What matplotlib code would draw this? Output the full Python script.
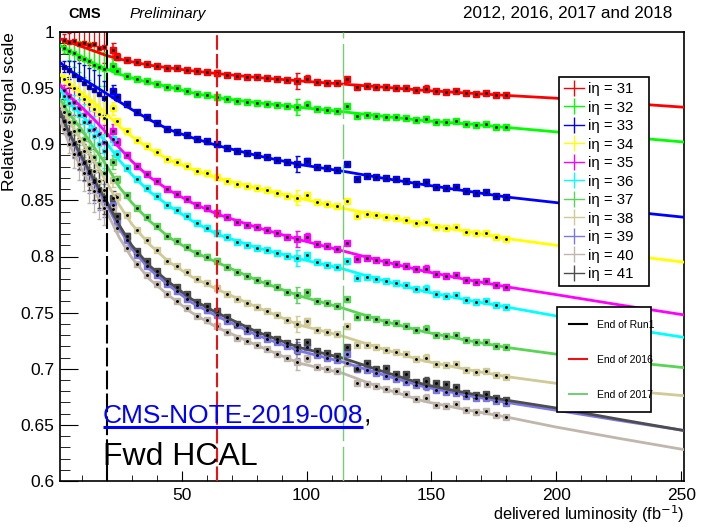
import matplotlib
matplotlib.use("Agg")
import matplotlib.pyplot as plt
from matplotlib.lines import Line2D
from matplotlib.ticker import MultipleLocator, FormatStrFormatter

plt.rcParams['font.family'] = ['Liberation Sans', 'DejaVu Sans']

# ---- data ----
eta_labels = ["iη = 31", "iη = 32", "iη = 33", "iη = 34", "iη = 35", "iη = 36",
              "iη = 37", "iη = 38", "iη = 39", "iη = 40", "iη = 41"]

lumi_fit = [1.3, 5, 10, 15, 20, 25, 30, 37, 45, 54, 64, 80, 97, 114.5, 130, 147, 165, 180, 200, 225, 251]
lumi_run1 = [3, 5, 7, 9, 11, 13, 15, 17, 19]
lumi_run2 = [22.5, 24, 28, 32, 36, 40, 44, 48, 52, 56, 60, 64, 68, 72, 76, 80, 84, 88, 92, 96, 100,
             104, 108, 112, 116, 120, 124, 128, 132, 136, 140, 144, 148, 152, 156, 160, 164, 168, 172, 176, 180]
err_run1 = [0.005, 0.008, 0.012, 0.014, 0.016, 0.017, 0.018, 0.017, 0.015]
err_run2 = [0.006, 0.003, 0.002, 0.0015, 0.0015, 0.0015, 0.0015, 0.0015, 0.0015, 0.0015, 0.002, 0.0025,
            0.0015, 0.0015, 0.0015, 0.0015, 0.0015, 0.0015, 0.0015, 0.007, 0.003, 0.0015, 0.0015, 0.0015,
            0.002, 0.002, 0.0015, 0.0015, 0.0015, 0.0015, 0.0015, 0.0015, 0.003, 0.0015, 0.0015, 0.0015,
            0.0015, 0.0015, 0.0015, 0.0015, 0.0015]

fit_31 = [.994, .991, .987, .983, .979, .976, .9735, .9705, .968, .9655, .963, .9595, .9565, .9536, .951, .948, .9455, .9435, .941, .937, .933]
fit_32 = [.988, .983, .978, .972, .967, .9625, .959, .955, .951, .946, .9415, .937, .933, .929, .925, .921, .918, .915, .911, .907, .902]
fit_33 = [.973, .966, .959, .952, .945, .938, .931, .922, .913, .906, .899, .890, .882, .876, .870, .864, .858, .853, .848, .841, .835]
fit_34 = [.962, .954, .946, .937, .927, .916, .907, .896, .886, .878, .870, .861, .852, .843, .836, .829, .822, .816, .810, .802, .795]
fit_35 = [.953, .943, .933, .922, .910, .897, .885, .871, .859, .848, .838, .826, .815, .805, .796, .787, .779, .773, .766, .757, .748]
fit_36 = [.949, .937, .926, .914, .901, .886, .873, .858, .845, .832, .820, .808, .798, .789, .779, .769, .761, .755, .747, .737, .728]
fit_37 = [.940, .927, .913, .897, .881, .862, .848, .832, .817, .805, .795, .779, .765, .754, .743, .733, .725, .719, .713, .707, .701]
fit_38 = [.936, .920, .903, .885, .866, .846, .829, .811, .795, .782, .771, .755, .739, .729, .718, .707, .699, .693, .687, .681, .676]
fit_39 = [.930, .909, .887, .866, .846, .825, .807, .789, .774, .759, .747, .730, .716, .706, .695, .684, .676, .670, .663, .654, .645]
fit_40 = [.922, .900, .878, .858, .840, .817, .799, .780, .765, .750, .737, .721, .705, .696, .683, .671, .663, .657, .648, .638, .628]
fit_41 = [.929, .910, .889, .868, .849, .828, .810, .792, .777, .762, .750, .733, .719, .7095, .698, .686, .678, .672, .665, .655, .645]

run1_31 = [.993, .991, .992, .989, .990, .988, .989, .986, .987]
run1_32 = [.986, .983, .981, .978, .976, .974, .971, .969, .967]
run1_33 = [.969, .966, .962, .958, .955, .951, .948, .945, .941]
run1_34 = [.958, .954, .950, .945, .940, .936, .931, .927, .923]
run1_35 = [.948, .943, .938, .932, .926, .920, .914, .909, .902]
run1_36 = [.943, .937, .932, .926, .920, .913, .907, .900, .894]
run1_37 = [.934, .927, .920, .913, .905, .897, .889, .882, .874]
run1_38 = [.929, .920, .912, .903, .894, .885, .876, .867, .859]
run1_39 = [.921, .909, .900, .891, .883, .874, .866, .858, .850]
run1_40 = [.914, .900, .891, .882, .874, .865, .858, .850, .843]
run1_41 = [.921, .910, .901, .892, .884, .876, .868, .860, .853]

run2_31 = [.984, .978, .975, .973, .9715, .970, .968, .9675, .9665, .965, .9645, .9635, .962, .9605, .960, .9595,
           .959, .958, .9572, .9565, .9585, .9556, .955, .9542, .958, .951, .9522, .9514, .9508, .9505, .9498,
           .9485, .9495, .947, .9466, .9475, .9455, .9448, .9455, .944, .9435]
run2_32 = [.970, .9652, .961, .958, .9562, .954, .9511, .9497, .9477, .9451, .9439, .9421, .9404, .9387, .9377,
           .937, .9363, .9351, .934, .9332, .9353, .9315, .9307, .9298, .934, .9256, .926, .9255, .9246, .9242,
           .9233, .9217, .9226, .9198, .9195, .9206, .9181, .9172, .9176, .9156, .915]
run2_33 = [.947, .9417, .9355, .9284, .924, .9192, .9137, .9112, .9083, .9046, .9026, .8998, .8968, .8938, .8918,
           .890, .8884, .8862, .8841, .8825, .8848, .8798, .8785, .8772, .8822, .869, .8716, .8708, .8695, .8687,
           .8674, .865, .866, .8618, .861, .862, .8581, .8567, .8572, .8543, .853]
run2_34 = [.932, .9206, .9114, .9039, .8984, .8929, .8868, .8838, .8806, .8764, .874, .8708, .8677, .8647, .8627,
           .861, .8592, .8568, .8543, .8525, .8545, .8487, .8467, .8446, .8495, .836, .8379, .8369, .8354, .8343,
           .8329, .8302, .831, .8265, .8255, .8263, .8222, .8205, .8208, .8176, .816]
run2_35 = [.912, .9023, .8907, .881, .8739, .8672, .86, .8558, .8513, .846, .8429, .8389, .835, .8311, .8285,
           .826, .8238, .8208, .8178, .8156, .8178, .8112, .8091, .8068, .8122, .7975, .7986, .7972, .7951, .7937,
           .7918, .7886, .7893, .7843, .783, .7839, .7792, .7774, .778, .7746, .773]
run2_36 = [.905, .8917, .8791, .8687, .861, .8538, .8458, .8412, .8358, .8296, .8257, .8209, .817, .8131, .8105,
           .808, .806, .8033, .8005, .7986, .801, .7947, .7928, .7908, .7961, .7812, .782, .7803, .778, .7764,
           .7742, .7708, .7713, .7663, .765, .7659, .7612, .7594, .76, .7566, .755]
run2_37 = [.884, .8688, .8546, .8434, .8353, .8272, .8183, .8136, .8087, .803, .80, .796, .791, .786, .7824,
           .779, .7761, .7724, .7687, .7658, .7682, .7608, .7585, .756, .7619, .7457, .7463, .7444, .742, .7405,
           .7383, .7348, .7356, .7302, .729, .7302, .7252, .7234, .7242, .7206, .719]
run2_38 = [.868, .8533, .8369, .8239, .8147, .8059, .7963, .7914, .786, .7798, .7765, .7721, .767, .7619, .7583,
           .755, .7516, .7475, .7433, .7399, .7424, .7348, .7331, .7308, .7378, .7214, .7212, .7194, .717, .7152,
           .7128, .7089, .7099, .7041, .703, .7045, .6992, .6974, .6984, .6946, .693]
run2_39 = [.846, .832, .8145, .8015, .7915, .7836, .7757, .769, .7625, .757, .752, .7475, .7428, .7388, .734,
           .7302, .7265, .7236, .7205, .7168, .7195, .712, .710, .708, .7135, .6995, .699, .6965, .6935, .691,
           .688, .6855, .6845, .681, .679, .6785, .6755, .674, .6735, .671, .6695]
run2_40 = [.842, .8252, .8074, .7936, .7839, .7754, .7662, .7607, .7545, .7474, .7432, .7382, .733, .7278, .7243,
           .721, .7177, .7134, .7092, .7059, .7092, .7016, .6998, .6979, .7055, .6873, .6868, .6847, .6818, .68,
           .6773, .6731, .6742, .6681, .667, .6688, .6632, .6613, .6626, .6586, .657]
run2_41 = [.852, .836, .8185, .8049, .7958, .7874, .7781, .7728, .7666, .7596, .7561, .7512, .7458, .7402, .7365,
           .733, .7302, .7264, .7226, .7198, .7236, .7155, .7136, .7114, .7196, .701, .7055, .6995, .701, .695,
           .6955, .6881, .6894, .6875, .686, .684, .6782, .6763, .6777, .6736, .672]

end_run1 = 20.0
end_2016 = 64.1
end_2017 = 114.5

fits = [fit_31, fit_32, fit_33, fit_34, fit_35, fit_36, fit_37, fit_38, fit_39, fit_40, fit_41]
runs1 = [run1_31, run1_32, run1_33, run1_34, run1_35, run1_36, run1_37, run1_38, run1_39, run1_40, run1_41]
runs2 = [run2_31, run2_32, run2_33, run2_34, run2_35, run2_36, run2_37, run2_38, run2_39, run2_40, run2_41]
colors = ['#ff0000', '#00ff00', '#0000ff', '#ffff00', '#ff00ff', '#00ffff',
          '#59d454', '#cfca96', '#7b78e6', '#c0b6ac', '#4d4d4d']


def draw_scale_plot():
    fig = plt.figure(figsize=(7.02, 5.27), dpi=100)
    ax = fig.add_axes([60 / 702, 46 / 527, 624 / 702, 449 / 527])

    for col, f, r1, r2 in zip(colors, fits, runs1, runs2):
        ax.errorbar(lumi_run1, r1, yerr=err_run1, fmt='s', color=col, ms=2.5, lw=0.9,
                    capsize=1.5, zorder=2)
        ax.errorbar(lumi_run2, r2, yerr=err_run2, fmt='s', color=col, ms=3.8, lw=1.1,
                    capsize=1.8, zorder=2)
        ax.plot(lumi_run1 + lumi_run2, r1 + r2, 'o', color='black', ms=1.1, zorder=4)
        ax.plot(lumi_fit, f, color=col, lw=2.0, zorder=3)

    ax.axvline(end_run1, color='black', lw=1.5, linestyle=(0, (9, 2)), zorder=5)
    ax.axvline(end_2016, color='#ee1111', lw=1.5, linestyle=(0, (7, 2)), zorder=5)
    ax.axvline(end_2017, color='#77cc77', lw=1.0, linestyle=(0, (25, 4)), zorder=5)

    ax.set_xlim(1.3, 251.1)
    ax.set_ylim(0.6, 1.0)
    ax.xaxis.set_major_locator(MultipleLocator(50))
    ax.xaxis.set_minor_locator(MultipleLocator(10))
    ax.yaxis.set_major_locator(MultipleLocator(0.05))
    ax.yaxis.set_minor_locator(MultipleLocator(0.01))
    ax.yaxis.set_major_formatter(FormatStrFormatter('%g'))
    ax.tick_params(axis='both', which='both', direction='in', labelsize=12.5, top=False, right=False)
    ax.tick_params(axis='y', which='major', length=13, pad=4)
    ax.tick_params(axis='y', which='minor', length=7)
    ax.tick_params(axis='x', which='major', length=7, pad=5)
    ax.tick_params(axis='x', which='minor', length=4)
    for sp in ax.spines.values():
        sp.set_linewidth(1.2)

    ax.set_xlabel("delivered luminosity (fb$^{-1}$)", fontsize=11.8, loc='right')
    ax.set_ylabel("Relative signal scale", fontsize=12.5, loc='top')
    ax.xaxis.set_label_coords(1.0, -0.049)
    ax.yaxis.set_label_coords(-0.069, 1.0)

    fig.text(68 / 702, 1 - 14 / 527, "CMS", fontsize=10.5, fontweight='bold', va='center')
    fig.text(130 / 702, 1 - 14 / 527, "Preliminary", fontsize=11, style='italic', va='center')
    fig.text(672 / 702, 1 - 14 / 527, "2012, 2016, 2017 and 2018", fontsize=12.3, ha='right', va='center')

    note = ax.text(18.5, 0.6518, "CMS-NOTE-2019-008", fontsize=19, color='#0000ff', va='baseline', zorder=6)
    ax.text(18.5, 0.6143, "Fwd HCAL", fontsize=23, color='black', va='baseline', zorder=6)
    fig.canvas.draw()
    bb = note.get_window_extent(fig.canvas.get_renderer())
    inv = ax.transData.inverted()
    x0, _ = inv.transform((bb.x0, bb.y0))
    x1, _ = inv.transform((bb.x1, bb.y0))
    ax.plot([x0, x1], [0.6478, 0.6478], color='#0000ff', lw=2.2, zorder=6, solid_capstyle='butt')
    ax.text(x1, 0.6518, ",", fontsize=19, color='black', va='baseline', zorder=6)

    handles = [Line2D([], [], color=c, lw=1, marker='|', ms=11, mew=1) for c in colors]
    leg1 = ax.legend(handles, eta_labels, loc='upper left', bbox_to_anchor=(0.788, 0.917, 0.168, 0.0),
                     mode='expand', fontsize=10.8, labelspacing=0.3, handlelength=1.3, handletextpad=0.3,
                     borderpad=0.35, fancybox=False, framealpha=1, edgecolor='black')
    leg1.get_frame().set_linewidth(1.2)
    leg1.set_zorder(10)
    ax.add_artist(leg1)

    run_handles = [Line2D([], [], color='black', lw=1.5),
                   Line2D([], [], color='#ee1111', lw=1.5),
                   Line2D([], [], color='#77cc77', lw=1.5)]
    leg2 = ax.legend(run_handles, ["End of Run1", "End of 2016", "End of 2017"], loc='upper left',
                     bbox_to_anchor=(0.788, 0.399, 0.168, 0.0), mode='expand', fontsize=7.5,
                     labelspacing=2.4, handlelength=1.7, handletextpad=0.9, borderpad=1.2,
                     fancybox=False, framealpha=1, edgecolor='black')
    leg2.get_frame().set_linewidth(1.2)
    leg2.set_zorder(10)

    fig.savefig("out.png", dpi=100)


if __name__ == "__main__":
    draw_scale_plot()
